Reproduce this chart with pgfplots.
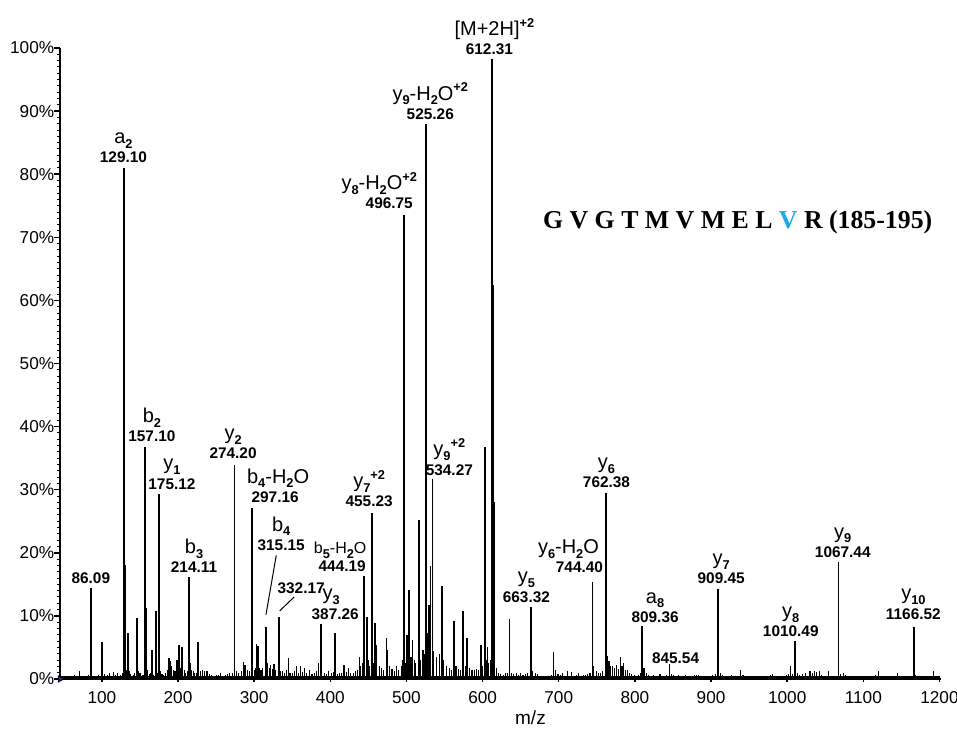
\documentclass[border=0pt]{standalone}
\usepackage{pgfplots}
\pgfplotsset{compat=1.18}
\usepackage{fontspec}
\setmainfont{Liberation Sans}
\newfontfamily\seqfont{Liberation Serif}
\definecolor{vblue}{RGB}{30,168,228}
\definecolor{tri}{RGB}{30,40,200}
\newcommand\sub[1]{\raisebox{-2.3pt}{\fontsize{6.4}{6}\selectfont\bfseries #1}}
\newcommand\sups[1]{\raisebox{4.2pt}{\fontsize{6.4}{6}\selectfont\bfseries #1}}
\tikzset{numlab/.style={anchor=base, inner sep=0pt, font=\fontsize{7.7}{8}\selectfont\bfseries},
         ionlab/.style={anchor=base, inner sep=0pt, font=\fontsize{10}{10}\selectfont}}
% #1 x, #2 y of number baseline, #3 ion label, #4 number, #5 xshift of ion label
\newcommand\pk[5]{\node[numlab] (n) at (axis cs:#1,#2) {#4};
  \node[ionlab, xshift=#5] at ([yshift=9.6pt]n.base) {#3};}
\begin{document}
\begin{tikzpicture}
\begin{axis}[
  scale only axis, width=440.5pt, height=315.5pt,
  xmin=45, xmax=1202, ymin=0, ymax=100,
  axis lines*=left, clip=false,
  axis line style={line width=0.9pt},
  xtick={100,200,...,1200}, ytick={0,10,...,100},
  minor y tick num=9,
  xtick align=center, ytick align=outside,
  major tick length=3pt, minor tick length=1.5pt,
  tick style={line width=0.7pt, black},
  minor tick style={line width=0.5pt},
  /pgf/number format/assume math mode=true,
  /pgf/number format/1000 sep={},
  yticklabel={\pgfmathprintnumber{\tick}\%},
  ticklabel style={font=\fontsize{8.6}{10}\selectfont},
  xticklabel style={yshift=-1pt},
  yticklabel style={xshift=3.6pt},
  xlabel={m/z},
  xlabel style={at={(axis description cs:0.534,0)}, anchor=center, yshift=-19.5pt, font=\fontsize{9.5}{11}\selectfont},
]
% baseline
\addplot[black, line width=1.1pt] coordinates {(45,0.25)(1200,0.25)};
% baseline noise
\addplot[ycomb, black, line width=0.55pt] coordinates {
(48,0.4)(52,0.3)(56,0.5)(60,0.4)(64,0.6)(68,0.3)(71,1.2)(75,0.5)(79,0.4)(83,0.6)(88,0.5)(92,0.4)(95,0.7)(104,0.8)(107,0.6)(110.5,1.0)(113,0.5)(115.8,1.1)(118,0.6)(121,1.0)(124,0.7)(127,0.9)
(132,1.5)(136,1.2)(138,0.8)(141,0.6)(143,1.0)(148,1.3)(150,0.9)(152,0.5)(154,0.7)(160,1.4)(162,0.8)(164,1.0)(168,0.7)(173,1.0)(177,1.3)(179,0.8)(181,0.6)(184,1.0)(186,1.5)(190.5,2.8)(192,2.0)(194,1.5)(196,1.2)(203,1.8)(208,1.4)(210,1.0)(212,1.2)(216.5,2.6)(218,1.5)(220,1.2)(222,0.9)(224,1.0)(229,1.3)(232,1.5)(235,1.2)(238,1.3)(241,0.8)(244,0.6)(247,0.5)(250,0.7)(253,0.6)(256,0.9)(259,0.5)(262,0.7)(265,0.8)(268,1.0)(271,0.9)(277,1.2)(280,1.0)(283,1.3)(285.4,2.7)(288,2.2)(291,1.5)(294,1.2)(300,1.4)(302,1.8)(303.5,5.5)(305,5.3)(307,1.8)(309,1.5)(311,1.7)(317,1.9)(318,2.5)(320,1.8)(322,2.2)(324,1.6)(326,2.3)(328,1.5)(334,1.3)(337,1.2)(340,1.0)(342,1.4)(344.6,3.3)(347,1.0)(350,0.9)(353,1.2)(356,2.0)(358,1.0)(361,2.0)(363,1.1)(366,1.8)(369,0.9)(373,1.5)(376,0.8)(379,1.0)(382,1.2)(384,2.5)(389,2.3)(392,1.0)(395,0.8)(398,1.2)(401,0.9)(404,1.1)(409,0.8)(412,1.0)(415,0.9)(418,2.2)(421,1.1)(424,1.8)(427,1.0)(430,0.9)(433,1.2)(436,1.5)(438,3.5)(440,2.0)(442,2.5)(450,3.0)(452,2.0)(457,2.5)(461,5.4)(464,2.0)(467,1.8)(470,1.5)(473.4,6.5)(475,4.6)(478,2.0)(481,1.6)(484,1.3)(487,2.0)(490,1.5)(493,2.0)(495,3.0)(499,2.5)(506,3.5)(510,3.0)(512,2.5)(518,3.0)(523,4.0)(536,4.5)(539,3.5)(543,4.0)(549,3.0)(553,2.0)(556,1.8)(559,1.5)(565,2.0)(568,1.6)(571,1.5)(577,2.0)(583,1.8)(586,1.5)(589,1.4)(592,1.6)(595,1.5)(600,2.0)(605,3.0)(608,2.5)(610,3.0)(616,3.0)(618,1.8)(621,1.0)(624,0.8)(627,0.7)(630,0.9)(633,1.0)(638,1.0)(641,0.8)(644,1.0)(647,0.7)(650,0.9)(653,0.6)(656,0.8)(659,1.0)(666,1.2)(669,1.0)(672,0.8)(675,0.5)(678,0.4)(681,0.3)(684,0.5)(687,0.4)(690,0.6)(696,1.5)(699,0.8)(702,0.6)(705,1.0)(708,0.4)(711,1.2)(714,0.5)(717,1.1)(720,0.4)(723,0.6)(726,1.0)(729,0.5)(732,0.7)(735,0.6)(738,0.8)(741,1.0)(746,2.0)(749,1.2)(752,0.9)(755,1.0)(758,1.2)(761,1.5)(764.5,3.6)(766,2.8)(768,2.0)(770,2.0)(773,1.8)(776,2.2)(778,1.6)(781,3.5)(783,2.0)(785,2.5)(788,1.4)(790,1.5)(793,1.0)(796,0.8)(799,0.6)(802,0.5)(805,0.6)(808,1.0)(812,1.8)(815,1.0)(818,0.7)(821,0.5)(824,0.6)(827,0.4)(830,0.5)(833,0.8)(836,0.5)(839,0.4)(842,0.6)(848,0.8)(851,0.6)(854,0.5)(857,0.6)(860,0.5)(863,0.4)(866,0.6)(869,0.5)(872,0.4)(875,0.5)(878,0.6)(881,0.7)(884,0.6)(887,0.5)(890,0.4)(893,0.3)(896,0.5)(899,0.4)(902,0.6)(906,0.8)(912,1.0)(915,0.6)(918,0.5)(921,0.4)(924,0.5)(927,0.6)(930,0.4)(933,0.5)(936,0.4)(939,1.5)(942,0.6)(945,0.4)(948,0.5)(951,0.3)(954,0.4)(957,0.5)(960,0.4)(963,0.3)(966,0.5)(969,0.4)(972,0.3)(975,0.4)(978,0.6)(981,0.8)(984,0.5)(987,0.4)(990,0.3)(993,0.4)(996,0.5)(999,0.6)(1002,0.8)(1004.7,2.0)(1007,0.8)(1013,0.9)(1016,0.6)(1020,0.8)(1024,1.0)(1027,0.5)(1030,1.2)(1033,1.0)(1036,1.2)(1039,1.1)(1042,1.2)(1045,0.6)(1048,0.5)(1051,0.4)(1054.6,1.3)(1058,0.4)(1061,0.3)(1064,0.5)(1070,0.8)(1074,1.0)(1077,0.6)(1080,0.5)(1083,0.4)(1086,0.3)(1089,0.4)(1092,0.3)(1095,0.5)(1098,0.4)(1101,0.3)(1104,0.4)(1107,0.5)(1110,0.3)(1113,0.4)(1116,0.6)(1120,1.2)(1123,0.4)(1126,0.3)(1129,0.5)(1132,0.4)(1135,0.3)(1138,0.4)(1141,0.3)(1145,1.0)(1148,0.4)(1151,0.5)(1154,0.3)(1157,0.4)(1160,0.3)(1163,0.5)(1169,0.6)(1172,0.4)(1175,0.3)(1178,0.5)(1181,0.4)(1184,0.3)(1187,0.4)(1190,0.5)(1192.7,1.2)(1195,0.4)(1198,0.3)
};
% peaks
\addplot[ycomb, black, line width=0.9pt] coordinates {
(86.09,14.4)(99.5,4.4)(100.3,5.9)
(129.10,81.0)(130.1,18.0)(134.2,7.3)(146,9.7)(157.10,36.8)(158.2,11.3)(165.7,4.6)(171,10.8)(175.12,29.3)
(188,3.3)(198.6,3.0)(201.2,5.4)(205,5.0)(214.11,16.1)(226,5.9)(274.20,33.9)(297.16,27.1)(315.15,8.3)(332.17,9.8)
(387.26,8.7)(406.4,7.3)(444.19,16.3)(448,9.8)(455.23,26.3)(459,8.9)
(496.75,73.5)(501,7.0)(503.5,14.1)(508,6.2)(516,25.2)(521.3,4.6)(525.26,88.0)(527.5,7.3)(529.5,11.7)(531.5,17.9)(534.27,31.7)(547,14.7)
(562.8,9.2)(574.7,10.8)(580,6.5)(598.4,5.4)(603,36.8)(606.3,5.0)(612.31,98.2)(613.5,62.4)(614.5,28.0)(635.2,9.5)(663.32,11.4)(693,4.3)
(744.40,15.4)(762.38,29.4)(809.36,8.4)(845.54,2.4)(909.45,14.3)(1010.49,6.0)(1067.44,18.5)(1166.52,8.2)
};
\addplot[only marks, mark=triangle*, mark size=1.8pt, mark options={rotate=-90, fill=tri, draw=none}] coordinates {(45,0)};
% labels
\node[numlab] at (axis cs:85.5,15.2) {86.09};
\pk{128.3}{81.8}{a\sub{2}}{129.10}{0pt}
\pk{165.7}{37.6}{b\sub{2}}{157.10}{0pt}
\pk{192}{30.1}{y\sub{1}}{175.12}{0pt}
\pk{221}{16.8}{b\sub{3}}{214.11}{0pt}
\pk{272.3}{34.9}{y\sub{2}}{274.20}{0pt}
\pk{327.5}{28.0}{b\sub{4}-H\sub{2}O}{297.16}{1.5pt}
\pk{335.4}{20.4}{b\sub{4}}{315.15}{0pt}
\node[numlab] at (axis cs:361.7,13.6) {332.17};
\pk{406.4}{9.5}{y\sub{3}}{387.26}{-2pt}
\node[numlab] (n) at (axis cs:415.6,17.1) {444.19};
\node[anchor=base, inner sep=0pt, font=\fontsize{8}{8}\selectfont] at ([yshift=8.6pt,xshift=-1pt]n.base) {b\sub{5}-H\sub{2}O};
\pk{451}{27.3}{y\sub{7}\sups{+2}}{455.23}{0pt}
\pk{477.4}{74.5}{y\sub{8}-H\sub{2}O\sups{+2}}{496.75}{-5pt}
\pk{531.3}{88.7}{y\sub{9}-H\sub{2}O\sups{+2}}{525.26}{0pt}
\pk{556.3}{32.3}{y\sub{9}\sups{+2}}{534.27}{0pt}
\pk{608.9}{98.9}{[M+2H]\sups{+2}}{612.31}{2.5pt}
\pk{657.5}{12.2}{y\sub{5}}{663.32}{0pt}
\pk{727.2}{16.8}{y\sub{6}-H\sub{2}O}{744.40}{-5.5pt}
\pk{762.7}{30.3}{y\sub{6}}{762.38}{0pt}
\pk{826.5}{9.0}{a\sub{8}}{809.36}{0pt}
\node[numlab] at (axis cs:853.4,2.5) {845.54};
\pk{913.3}{15.1}{y\sub{7}}{909.45}{0pt}
\pk{1004.7}{6.7}{y\sub{8}}{1010.49}{0pt}
\pk{1073}{19.3}{y\sub{9}}{1067.44}{0pt}
\pk{1165.7}{9.5}{y\sub{10}}{1166.52}{0pt}
% leader lines
\draw[line width=0.5pt] (axis cs:329,19.6) -- (axis cs:315.5,10.2);
\draw[line width=0.5pt] (axis cs:352.5,13.0) -- (axis cs:333.5,10.8);
% sequence
\node[anchor=west, inner sep=0pt, font=\seqfont\bfseries\fontsize{12.9}{14}\selectfont] at (axis cs:679,72.3)
  {G V G T M V M E L \textcolor{vblue}{V} R (185-195)};
\coordinate (bl) at (rel axis cs:0,0);
\coordinate (tr) at (rel axis cs:1,1);
\end{axis}
\pgfresetboundingbox
\useasboundingbox ([shift={(-30pt,-25pt)}]bl) rectangle ([shift={(8pt,24pt)}]tr);
\end{tikzpicture}
\end{document}
